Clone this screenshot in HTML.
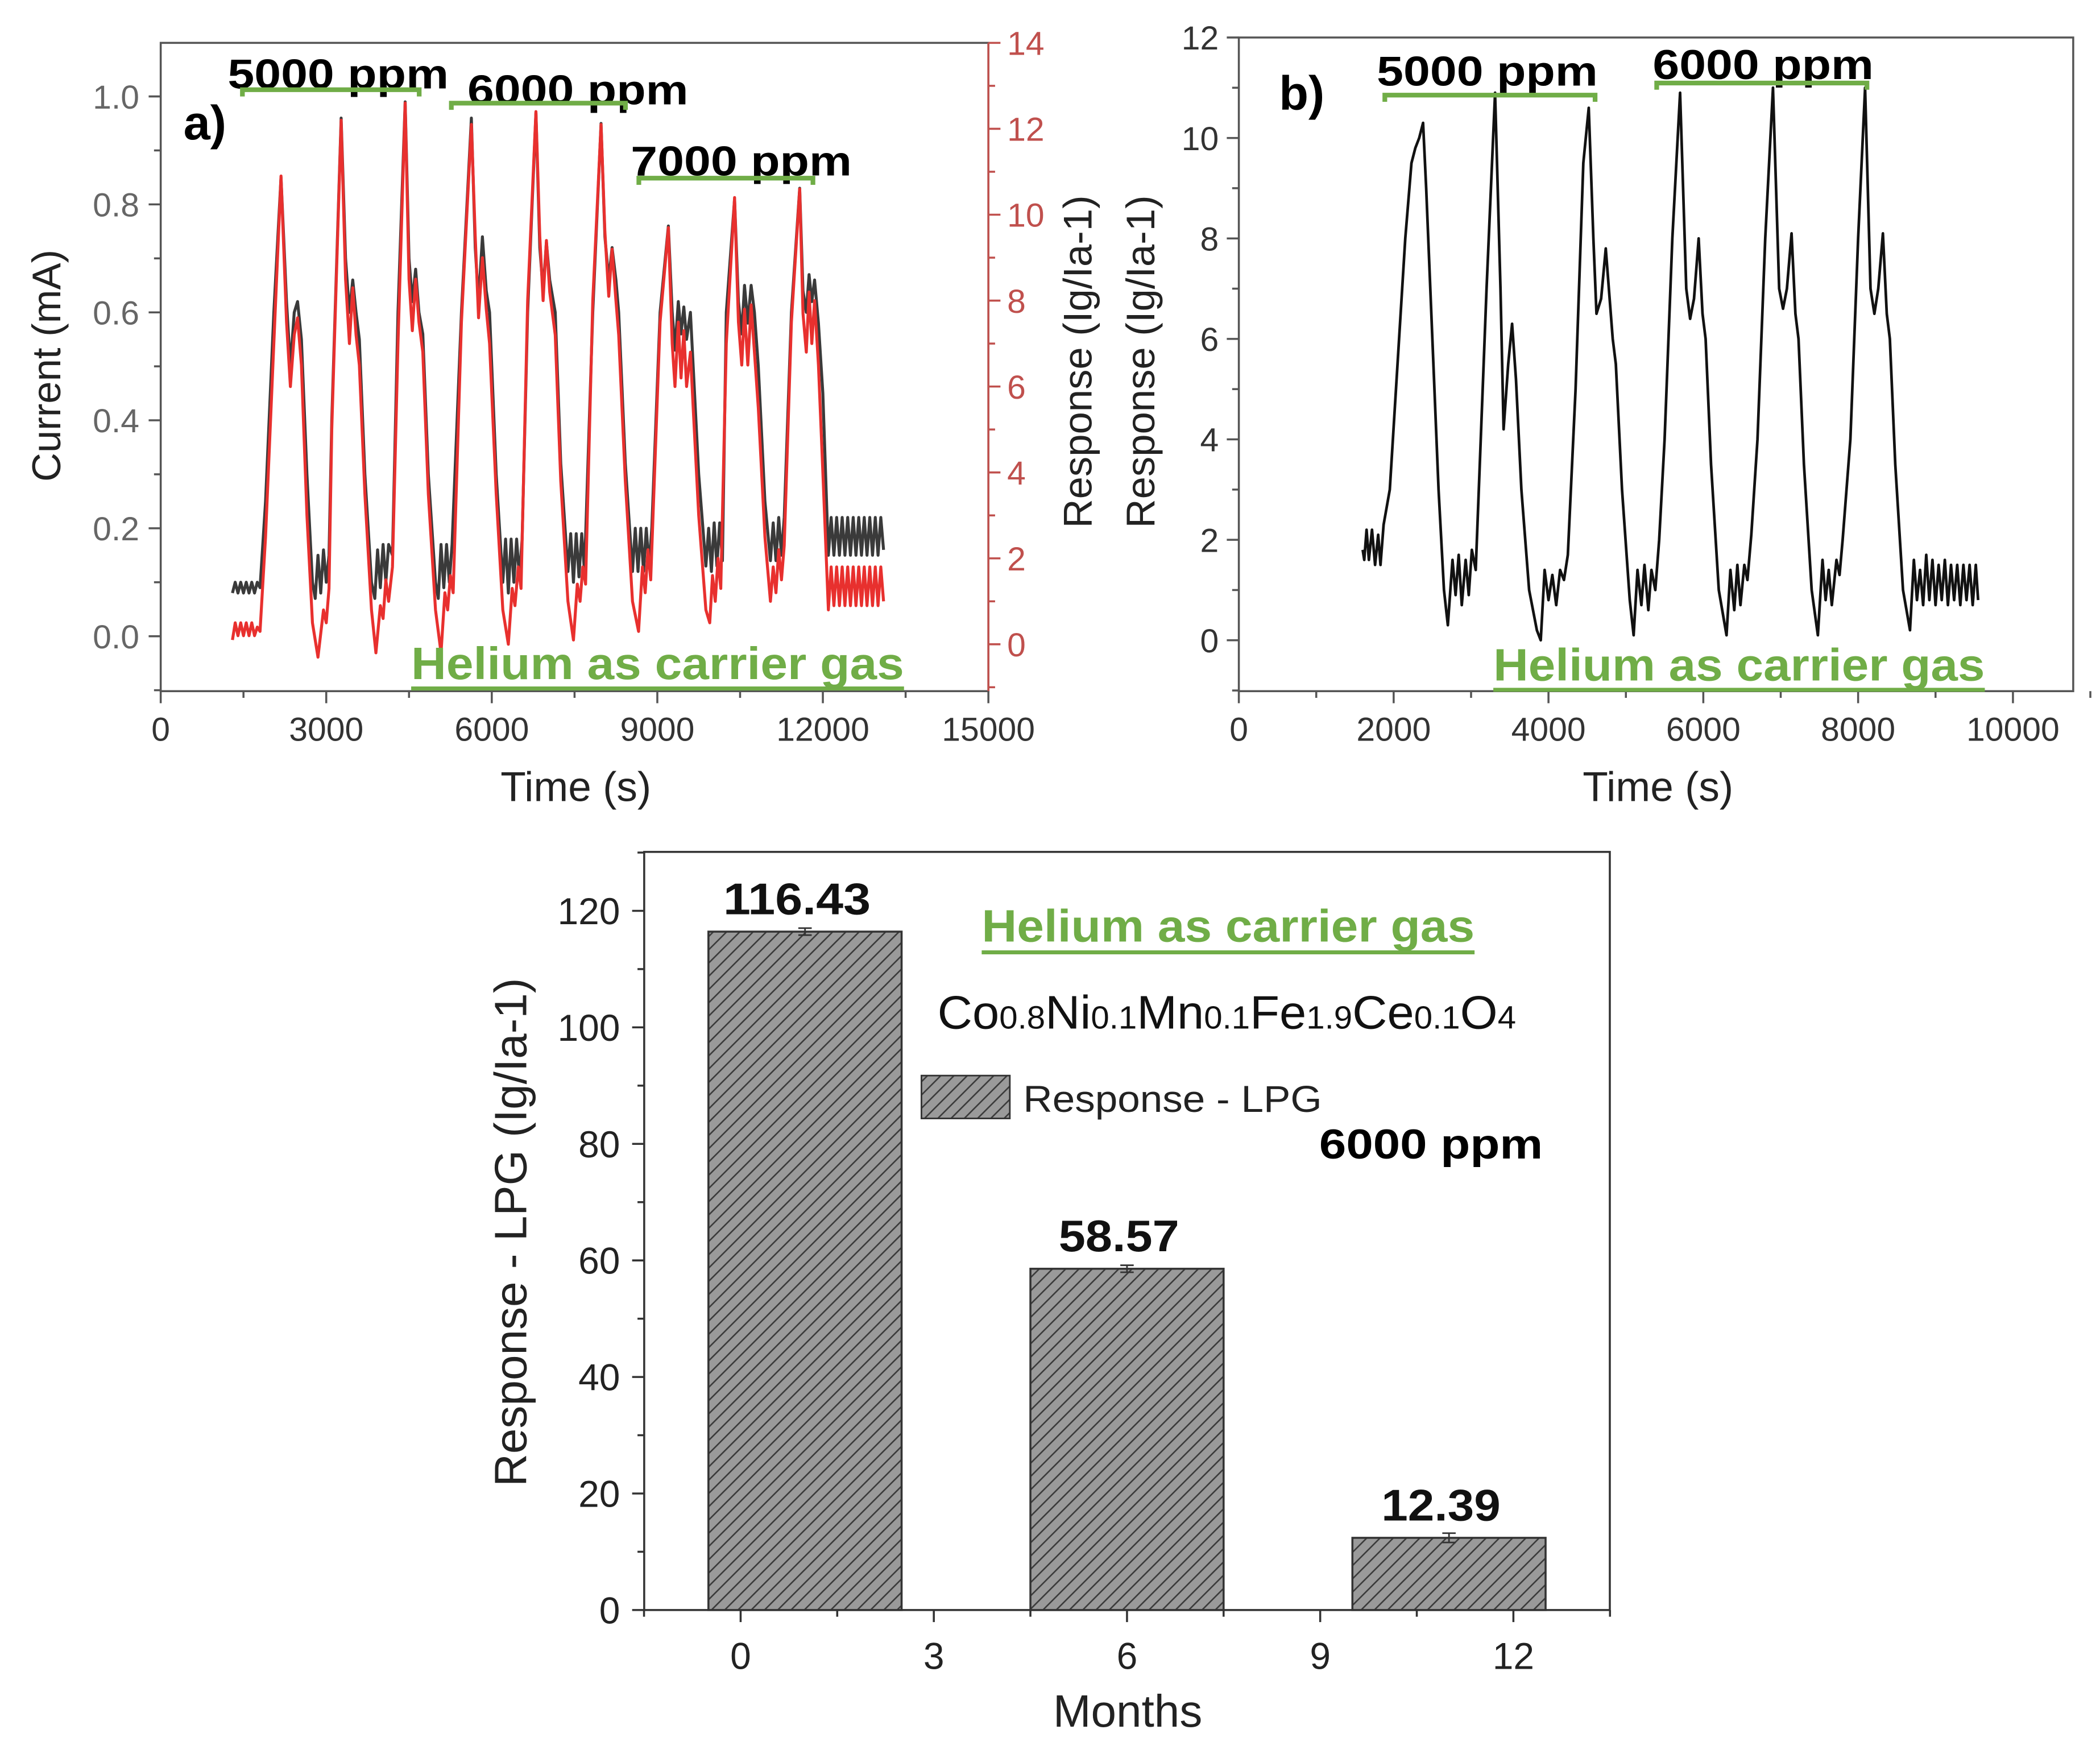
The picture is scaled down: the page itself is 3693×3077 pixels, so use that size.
<!DOCTYPE html>
<html><head><meta charset="utf-8"><style>
html,body{margin:0;padding:0;background:#fff}
svg{display:block}
text{font-family:"Liberation Sans",Arial,sans-serif}
</style></head><body>
<svg id="fig" width="3693" height="3077" viewBox="0 0 1568 1306.5" preserveAspectRatio="none" xmlns="http://www.w3.org/2000/svg">
<defs>
<pattern id="hatch" patternUnits="userSpaceOnUse" width="7" height="7" patternTransform="rotate(45)">
<rect width="7" height="7" fill="#9a9a9a"/><line x1="0" y1="0" x2="0" y2="7" stroke="#3a3a3a" stroke-width="2.2"/>
</pattern>
</defs>
<g id="pa"></g>
<g id="pb"></g>
<g id="pc"></g>
</svg>
<script>
// ---------- Panel a data ----------
const aRedT=[1300,1350,1400,1450,1500,1550,1600,1650,1700,1750,1800,1900,2050,2180,2280,2350,2420,2480,2550,2650,2750,2850,2950,3000,3050,3100,3270,3350,3420,3480,3540,3600,3700,3820,3900,3980,4030,4080,4130,4200,4300,4430,4500,4560,4620,4680,4750,4850,4980,5080,5150,5200,5250,5300,5450,5630,5700,5760,5830,5900,5960,6080,6200,6300,6370,6420,6480,6530,6650,6800,6870,6930,6990,7050,7150,7250,7380,7480,7550,7600,7650,7700,7830,7980,8050,8120,8180,8250,8300,8420,8550,8660,8730,8780,8830,8880,9050,9200,9270,9320,9380,9430,9480,9530,9600,9650,9750,9880,9950,10000,10050,10100,10150,10250,10400,10470,10530,10580,10640,10700,10760,10830,10950,11050,11100,11150,11200,11250,11300,11430,11580,11640,11700,11750,11800,11850,11920,12000,12100,12150,12200,12250,12300,12350,12400,12450,12500,12550,12600,12650,12700,12750,12800,12850,12900,12950,13000,13050,13100];
const aRedV=[0.1,0.5,0.2,0.5,0.2,0.5,0.2,0.5,0.2,0.4,0.3,2.5,7,10.9,7.5,6.0,7.2,7.6,6.5,3,0.5,-0.3,0.8,0.5,1.3,5,12.2,8.5,7,8.3,7.2,6.5,3.5,0.8,-0.2,0.9,0.6,1.5,1.0,1.8,7,12.6,8.5,7.3,8.5,7.5,6.8,3.5,0.8,-0.2,1.2,0.8,1.6,1.2,7.5,12.1,9.5,7.6,9.0,7.8,7.0,3.5,0.8,0.0,1.3,0.9,1.8,1.3,8,12.4,9.5,8,9.4,8.2,7.2,3.8,1,0.1,1.4,1,1.8,1.4,8,12.1,9.6,8.1,9.2,8,7.2,3.8,1,0.3,1.8,1.2,2.2,1.5,7.5,9.7,7,6,7.5,6.2,7.3,6,6.8,5.5,3,0.8,0.5,1.6,1.0,2.0,1.3,7,10.4,7.5,6.5,7.8,6.5,7.9,6.8,5.5,2.5,1.0,1.8,1.2,2.2,1.5,2.3,7.5,10.6,7.7,6.8,8.2,7,8,6.5,4,0.8,1.8,0.9,1.8,0.9,1.8,0.9,1.8,0.9,1.8,0.9,1.8,0.9,1.8,0.9,1.8,0.9,1.8,0.9,1.8,1.0];
const aBlkT=[1300,1350,1400,1450,1500,1550,1600,1650,1700,1750,1800,1900,2050,2180,2280,2350,2420,2480,2550,2650,2750,2800,2850,2900,2950,3000,3050,3100,3270,3350,3420,3480,3540,3600,3700,3820,3880,3930,3980,4030,4080,4130,4200,4300,4430,4500,4560,4620,4680,4750,4850,4980,5030,5080,5130,5180,5230,5280,5450,5630,5700,5760,5830,5900,5960,6080,6200,6250,6300,6350,6400,6450,6500,6550,6650,6800,6870,6930,6990,7050,7150,7250,7380,7430,7480,7530,7580,7630,7680,7830,7980,8050,8120,8180,8250,8300,8420,8550,8600,8650,8700,8750,8800,8850,8900,9050,9200,9270,9320,9380,9430,9480,9530,9600,9650,9750,9880,9930,9980,10030,10080,10130,10180,10250,10400,10470,10530,10580,10640,10700,10760,10830,10950,11050,11100,11150,11200,11250,11300,11430,11580,11640,11700,11750,11800,11850,11920,12000,12100,12150,12200,12250,12300,12350,12400,12450,12500,12550,12600,12650,12700,12750,12800,12850,12900,12950,13000,13050,13100];
const aBlkV=[0.08,0.1,0.08,0.1,0.08,0.1,0.08,0.1,0.08,0.1,0.09,0.25,0.6,0.85,0.62,0.5,0.6,0.62,0.55,0.3,0.1,0.07,0.15,0.08,0.16,0.1,0.15,0.4,0.96,0.7,0.6,0.66,0.6,0.55,0.3,0.1,0.07,0.16,0.09,0.17,0.1,0.17,0.15,0.6,0.99,0.7,0.62,0.68,0.6,0.56,0.3,0.1,0.07,0.17,0.09,0.17,0.1,0.17,0.6,0.96,0.72,0.62,0.74,0.64,0.6,0.3,0.1,0.18,0.08,0.18,0.1,0.18,0.11,0.18,0.6,0.97,0.72,0.64,0.73,0.66,0.6,0.32,0.12,0.19,0.1,0.19,0.11,0.19,0.12,0.6,0.95,0.74,0.66,0.72,0.66,0.6,0.32,0.12,0.2,0.12,0.2,0.12,0.2,0.13,0.2,0.6,0.76,0.6,0.53,0.62,0.56,0.61,0.55,0.6,0.5,0.3,0.13,0.2,0.12,0.21,0.13,0.21,0.14,0.6,0.81,0.62,0.56,0.65,0.58,0.65,0.6,0.5,0.25,0.14,0.21,0.14,0.22,0.15,0.22,0.6,0.83,0.64,0.6,0.67,0.62,0.66,0.58,0.45,0.15,0.22,0.15,0.22,0.15,0.22,0.15,0.22,0.15,0.22,0.15,0.22,0.15,0.22,0.15,0.22,0.15,0.22,0.15,0.22,0.16];
const aXTicks=[0,3000,6000,9000,12000,15000];
const aYTicks=[0.0,0.2,0.4,0.6,0.8,1.0];
const aY2Ticks=[0,2,4,6,8,10,12,14];
// ---------- Panel b data ----------
const bT=[1600,1620,1650,1680,1720,1760,1800,1830,1870,1950,2050,2150,2230,2280,2330,2380,2420,2500,2580,2650,2700,2760,2800,2840,2880,2930,2970,3010,3060,3100,3200,3310,3380,3420,3480,3530,3580,3650,3750,3850,3900,3950,4000,4050,4100,4150,4200,4250,4350,4450,4520,4580,4620,4680,4740,4790,4830,4870,4950,5050,5100,5150,5200,5240,5290,5330,5380,5430,5500,5600,5700,5780,5830,5880,5940,5990,6030,6100,6200,6300,6350,6400,6440,6480,6530,6570,6620,6700,6800,6900,6980,7030,7080,7140,7190,7230,7300,7400,7480,7540,7580,7620,7660,7720,7760,7800,7900,8000,8090,8160,8210,8260,8320,8370,8410,8480,8580,8670,8720,8760,8800,8840,8880,8920,8960,9000,9040,9080,9120,9160,9200,9240,9280,9320,9360,9400,9440,9480,9520,9550];
const bV=[1.8,1.6,2.2,1.6,2.2,1.5,2.1,1.5,2.3,3,5.5,8,9.5,9.8,10,10.3,9,6,3,1,0.3,1.6,0.9,1.7,0.7,1.6,0.9,1.8,1.4,3,7,10.9,7,4.2,5.5,6.3,5.2,3,1,0.2,0,1.4,0.8,1.3,0.7,1.4,1.2,1.7,5,9.5,10.6,8,6.5,6.8,7.8,6.8,6,5.5,3,0.8,0.1,1.4,0.7,1.5,0.6,1.4,1.0,2.0,4,8,10.9,7,6.4,6.8,8,6.5,6,3.5,1,0.1,1.4,0.6,1.5,0.7,1.5,1.2,2.1,4,8,11,7,6.6,7,8.1,6.5,6,3.5,1,0.1,1.6,0.8,1.4,0.7,1.6,1.3,2,4,8,11,7,6.5,7,8.1,6.5,6,3.5,1,0.2,1.6,0.8,1.4,0.7,1.7,0.8,1.6,0.7,1.5,0.8,1.6,0.7,1.5,0.8,1.5,0.7,1.5,0.8,1.5,0.7,1.5,0.8];
const bXTicks=[0,2000,4000,6000,8000,10000];
const bYTicks=[0,2,4,6,8,10,12];
// ---------- Panel c data ----------
const cMonths=[1,6,11];
const cValues=[116.43,58.57,12.39];
const cLabels=["116.43","58.57","12.39"];
const cErr=[0.6,0.6,0.8];
const cXTicks=[0,3,6,9,12];
const cYTicks=[0,20,40,60,80,100,120];

const NS="http://www.w3.org/2000/svg";
function mk(parent,tag,attrs,txt){const e=document.createElementNS(NS,tag);for(const k in attrs)e.setAttribute(k,attrs[k]);if(txt!==undefined)e.textContent=txt;parent.appendChild(e);return e;}
const AX="#555";
function lin(d0,d1,p0,p1){return v=>p0+(v-d0)/(d1-d0)*(p1-p0);}
function path(xs,ys,fx,fy){return xs.map((t,i)=>(i?'L':'M')+fx(t).toFixed(2)+' '+fy(ys[i]).toFixed(2)).join(' ');}
function greenBar(g,x1,x2,y,name){const e=mk(g,'path',{d:`M${x1} ${y+5}V${y}H${x2}V${y+5}`,fill:'none',stroke:'#70ad47','stroke-width':3.5});

}
function txt(g,x,y,s,attrs,name){const e=mk(g,'text',Object.assign({x:x,y:y},attrs),s);

return e;}
const PPM={'font-size':31,'font-weight':'bold',fill:'#000',textLength:165,lengthAdjust:'spacingAndGlyphs'};
const HEL={'font-size':34,'font-weight':'bold',fill:'#70ad47',textLength:368,lengthAdjust:'spacingAndGlyphs'};

// ===== Panel a =====
(function(){
const g=document.getElementById('pa');
const L=120,R=738,T=32,B=516;
const x=lin(0,15000,120,738), y=lin(0,1,475,72), y2=lin(0,14,481,32);
const box=mk(g,'rect',{x:L,y:T,width:R-L,height:B-T,fill:'none',stroke:AX,'stroke-width':1.5});


const bl=mk(g,'path',{d:path(aBlkT,aBlkV,x,y),fill:'none',stroke:'#3a3a3a','stroke-width':2.2,'stroke-linejoin':'round'});


const rd=mk(g,'path',{d:path(aRedT,aRedV,x,y2),fill:'none',stroke:'#e8302e','stroke-width':2.2,'stroke-linejoin':'round'});


const re=mk(g,'line',{x1:R,y1:T,x2:R,y2:B,stroke:'#c0504d','stroke-width':1.5});


for(let v=0;v<=15000;v+=1500){const X=x(v);mk(g,'line',{x1:X,y1:B,x2:X,y2:B+(v%3000?5:9),stroke:AX,'stroke-width':1.5});}
aXTicks.forEach(v=>txt(g,x(v),553,String(v),{'font-size':25,'text-anchor':'middle',fill:'#333'},'x-tick-label'));
for(let v=-0.1;v<=1.1;v+=0.1){const Y=y(v);if(Y<T||Y>B)continue;const maj=Math.abs(Math.round(v*10)%2)==0;mk(g,'line',{x1:L,y1:Y,x2:L-(maj?9:5),y2:Y,stroke:AX,'stroke-width':1.5});}
aYTicks.forEach(v=>txt(g,104,y(v)+9,v.toFixed(1),{'font-size':25,'text-anchor':'end',fill:'#666'},'y-tick-label'));
for(let v=-1;v<=14;v++){const Y=y2(v);if(Y<T-1||Y>B)continue;mk(g,'line',{x1:R,y1:Y,x2:R+(v%2?5:9),y2:Y,stroke:'#c0504d','stroke-width':1.5});}
aY2Ticks.forEach(v=>txt(g,752,y2(v)+9,String(v),{'font-size':25,'text-anchor':'start',fill:'#c0504d'},'y2-tick-label'));
txt(g,430,598,'Time (s)',{'font-size':31,'text-anchor':'middle',fill:'#222'},'x-axis-title');
txt(g,0,0,'Current (mA)',{'font-size':30,'text-anchor':'middle',fill:'#222',transform:'translate(45,273) rotate(-90)'},'y-axis-title');
txt(g,0,0,'Response (Ig/Ia-1)',{'font-size':30,'text-anchor':'middle',fill:'#222',transform:'translate(815,270) rotate(-90)'},'y2-axis-title');
txt(g,137,104,'a)',{'font-size':36,'font-weight':'bold',fill:'#000'},'panel-label-a');
txt(g,170,66,'5000 ppm',PPM,'label-5000-ppm');
greenBar(g,181,313,67,'bracket-5000-ppm');
txt(g,349,78,'6000 ppm',PPM,'label-6000-ppm');
greenBar(g,337,467,77,'bracket-6000-ppm');
txt(g,471,131,'7000 ppm',PPM,'label-7000-ppm');
greenBar(g,477,607,133,'bracket-7000-ppm');
txt(g,307,507,'Helium as carrier gas',HEL,'carrier-gas-label');
mk(g,'line',{x1:307,y1:514,x2:675,y2:514,stroke:'#70ad47','stroke-width':3});
})();
// ===== Panel b =====
(function(){
const g=document.getElementById('pb');
const L=925,R=1548,T=28,B=516;
const x=lin(0,10000,925,1503), y=lin(0,12,478,28);
const box=mk(g,'rect',{x:L,y:T,width:R-L,height:B-T,fill:'none',stroke:AX,'stroke-width':1.5});


const ln=mk(g,'path',{d:path(bT,bV,x,y),fill:'none',stroke:'#111','stroke-width':2,'stroke-linejoin':'round'});


for(let v=0;v<=11000;v+=1000){const X=x(v);mk(g,'line',{x1:X,y1:B,x2:X,y2:B+(v%2000?5:9),stroke:AX,'stroke-width':1.5});}
bXTicks.forEach(v=>txt(g,x(v),553,String(v),{'font-size':25,'text-anchor':'middle',fill:'#333'},'x-tick-label'));
for(let v=-1;v<=12;v++){const Y=y(v);if(Y>B)continue;mk(g,'line',{x1:L,y1:Y,x2:L-(v%2?5:9),y2:Y,stroke:AX,'stroke-width':1.5});}
bYTicks.forEach(v=>txt(g,910,y(v)+9,String(v),{'font-size':25,'text-anchor':'end',fill:'#333'},'y-tick-label'));
txt(g,1238,598,'Time (s)',{'font-size':31,'text-anchor':'middle',fill:'#222'},'x-axis-title');
txt(g,0,0,'Response (Ig/Ia-1)',{'font-size':30,'text-anchor':'middle',fill:'#222',transform:'translate(862,270) rotate(-90)'},'y-axis-title');
txt(g,955,82,'b)',{'font-size':36,'font-weight':'bold',fill:'#000'},'panel-label-b');
txt(g,1028,64,'5000 ppm',PPM,'label-5000-ppm');
greenBar(g,1034,1191,71,'bracket-5000-ppm');
txt(g,1234,59,'6000 ppm',PPM,'label-6000-ppm');
greenBar(g,1237,1394,62,'bracket-6000-ppm');
txt(g,1115,508,'Helium as carrier gas',Object.assign({},HEL,{textLength:367}),'carrier-gas-label');
mk(g,'line',{x1:1115,y1:515,x2:1482,y2:515,stroke:'#70ad47','stroke-width':3});
})();
// ===== Panel c =====
(function(){
const g=document.getElementById('pc');
const L=481,R=1202,T=636,B=1202;
const x=lin(0,12,553,1130), y=lin(0,120,1202,680);
const bw=x(3)-x(0);
const box=mk(g,'rect',{x:L,y:T,width:R-L,height:B-T,fill:'none',stroke:'#333','stroke-width':1.5});


const vlw=[110,90,89];
cMonths.forEach((m,i)=>{
 const X=x(m)-bw/2,Y=y(cValues[i]);
 const b=mk(g,'rect',{x:X,y:Y,width:bw,height:B-Y,fill:'url(#hatch)',stroke:'#333','stroke-width':1.5});
 
 
 mk(g,'path',{d:`M${x(m)-5} ${y(cValues[i]+cErr[i])}H${x(m)+5}M${x(m)} ${y(cValues[i]+cErr[i])}V${y(cValues[i]-cErr[i])}M${x(m)-5} ${y(cValues[i]-cErr[i])}H${x(m)+5}`,stroke:'#333','stroke-width':1.2,fill:'none'});
 txt(g,x(m)-6,Y-13,cLabels[i],{'font-size':33,'font-weight':'bold','text-anchor':'middle',fill:'#111',textLength:vlw[i],lengthAdjust:'spacingAndGlyphs'},'bar-value-label');
});
for(let v=-1.5;v<=13.5;v+=1.5){const X=x(v);const maj=(v%3===0);mk(g,'line',{x1:X,y1:B,x2:X,y2:B+(maj?9:5),stroke:'#333','stroke-width':1.5});}
cXTicks.forEach(v=>txt(g,x(v),1246,String(v),{'font-size':28,'text-anchor':'middle',fill:'#222'},'x-tick-label'));
for(let v=0;v<=130;v+=10){const Y=y(v);if(Y<T)continue;mk(g,'line',{x1:L,y1:Y,x2:L-(v%20?5:9),y2:Y,stroke:'#333','stroke-width':1.5});}
cYTicks.forEach(v=>txt(g,463,y(v)+10,String(v),{'font-size':28,'text-anchor':'end',fill:'#222'},'y-tick-label'));
txt(g,842,1289,'Months',{'font-size':34,'text-anchor':'middle',fill:'#222'},'x-axis-title');
txt(g,0,0,'Response - LPG (Ig/Ia-1)',{'font-size':34,'text-anchor':'middle',fill:'#222',transform:'translate(393,920) rotate(-90)'},'y-axis-title');
txt(g,733,703,'Helium as carrier gas',HEL,'carrier-gas-label');
mk(g,'line',{x1:733,y1:711,x2:1101,y2:711,stroke:'#70ad47','stroke-width':3});
const f=txt(g,700,768,'',{'font-size':35,fill:'#111',textLength:432,lengthAdjust:'spacingAndGlyphs'},'formula-label');
[['Co',0],['0.8',1],['Ni',0],['0.1',1],['Mn',0],['0.1',1],['Fe',0],['1.9',1],['Ce',0],['0.1',1],['O',0],['4',1]].forEach(p=>{mk(f,'tspan',p[1]?{'font-size':24}:{},p[0]);});
const sw=mk(g,'rect',{x:688,y:803,width:66,height:32,fill:'url(#hatch)',stroke:'#333','stroke-width':1.2});


txt(g,764,830,'Response - LPG',{'font-size':28,fill:'#222',textLength:223,lengthAdjust:'spacingAndGlyphs'},'legend-entry');
txt(g,985,865,'6000 ppm',Object.assign({},PPM,{textLength:167}),'label-6000-ppm');
})();
</script>
</body></html>
